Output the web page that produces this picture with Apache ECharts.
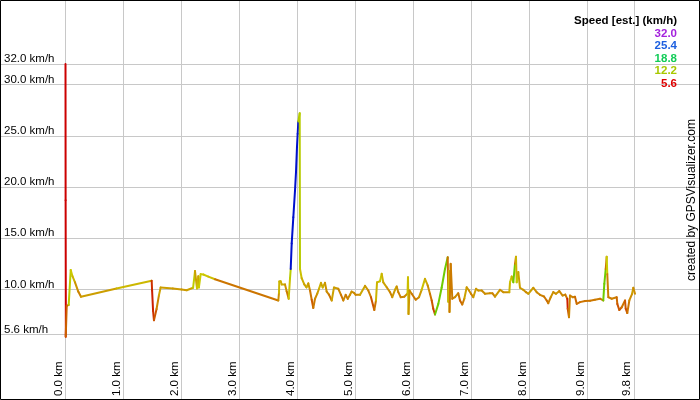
<!DOCTYPE html>
<html><head><meta charset="utf-8">
<script src="https://cdn.jsdelivr.net/npm/echarts@6/dist/echarts.min.js"></script>
<style>html,body{margin:0;padding:0;background:#fff}#c{width:700px;height:400px}</style>
</head><body><div id="c"></div>
<script>
const xTicks = [0, 1, 2, 3, 4, 5, 6, 7, 8, 9, 9.8];
const yTicks = [5.6, 10, 15, 20, 25, 30, 32];
const legendTitle = 'Speed [est.] (km/h)';
const legendValues = [32.0, 25.4, 18.8, 12.2, 5.6];
const legendColors = ['#a422dd', '#1d5fdf', '#12cc58', '#a8c800', '#dd0000'];
const lineHues = [280, 235, 140, 68, 0];
const credit = 'created by GPSVisualizer.com';
// [distance km, speed km/h, (optional) speed used for segment colour]
const track = [
[0.000,32.0,5.6],[0.002,18.7,5.6],[0.006,6.2,5.6],[0.004,5.4],[0.021,8.4],[0.055,8.5],
[0.090,11.9],[0.120,11.3],[0.164,10.7],[0.220,9.8],[0.267,9.3],[0.880,10.1],[1.486,10.85],
[1.493,9.9,7],[1.510,7.9,6.5],[1.525,7.0],[1.570,8.1],[1.610,9.4],[1.640,10.2],[1.850,10.1],
[2.000,10.0],[2.090,9.93],[2.200,10.17],[2.233,11.8],[2.267,10.1],[2.290,11.3],[2.300,10.2],
[2.331,11.5],[2.376,11.46],[2.462,11.26],[2.578,11.0],[3.669,8.93],[3.681,9.67],[3.686,10.78],
[3.710,10.8],[3.728,10.5],[3.784,10.5],[3.814,9.8],[3.848,9.1],[3.871,11.1],[3.883,12.0],
[3.900,14.5,25.4],[3.928,17.05,25.4],[3.957,19.66,25.4],[3.974,21.44,25.4],[3.991,23.9,25.4],
[4.003,25.2,25.4],[4.014,26.4,25.4],[4.038,27.2,12.2],[4.043,12.0],
[4.072,11.1],[4.117,10.5],[4.155,10.2],[4.186,10.6],[4.216,9.9],[4.245,9.0],[4.272,8.2],
[4.302,9.1],[4.341,9.6],[4.371,10.07],[4.405,10.65],[4.434,10.2],[4.474,10.65],[4.503,9.8],
[4.543,9.5],[4.590,8.93],[4.629,10.2],[4.703,10.07],[4.750,9.48],[4.790,8.93],[4.831,9.48],
[4.866,9.09],[4.905,9.48],[4.934,9.8],[4.974,9.68],[5.003,9.48],[5.078,9.48],[5.164,10.35],
[5.221,9.9],[5.267,9.25],[5.324,8.0],[5.353,8.93],[5.371,10.7],[5.422,10.8],[5.452,11.53],
[5.479,10.7],[5.538,10.22],[5.595,9.74],[5.634,9.25],[5.681,9.97],[5.710,10.3],[5.738,9.74],
[5.779,9.25],[5.841,9.3],[5.897,9.6],[5.905,11.2],[5.914,7.6,11],[5.931,9.9],[5.969,9.58],
[6.038,9.0],[6.095,9.25],[6.141,9.97],[6.198,11.04],[6.245,10.4],[6.284,9.58],[6.314,8.93],
[6.341,8.12],[6.371,7.56],[6.428,8.6,14],[6.486,10.2,14],[6.543,12.0,14],[6.590,13.15,14],
[6.600,8.8],[6.612,11.8],[6.621,7.8,11],[6.641,12.5,9],[6.669,9.1],[6.716,9.25],[6.772,9.64],
[6.802,8.93],[6.841,8.54],[6.876,9.1],[6.917,10.22],[6.957,9.9],[6.991,9.58],[7.031,9.25],
[7.078,10.07],[7.117,9.9],[7.176,9.9],[7.233,9.58],[7.319,9.64],[7.359,9.64],[7.405,9.3],
[7.491,9.97],[7.548,9.74],[7.652,9.74],[7.664,10.7],[7.693,11.27],[7.721,10.7],[7.750,12.5,14],
[7.767,13.2,9],[7.779,10.7],[7.807,11.7],[7.836,10.17],[7.893,9.97],[7.940,9.74],[7.979,9.58],
[8.066,10.17],[8.124,9.74],[8.181,9.48],[8.250,9.32],[8.297,8.93],[8.324,8.66],[8.366,9.25],
[8.410,9.74],[8.457,9.58],[8.514,9.84],[8.572,9.41],[8.617,9.5],[8.652,9.09],[8.659,8.12,6.5],
[8.681,7.3,8],[8.698,9.41],[8.745,9.25],[8.784,9.3],[8.814,8.6],[8.871,8.77],[8.957,8.87],
[9.043,8.9],[9.129,9.0],[9.216,9.1],[9.272,8.93],[9.290,10.55,14],[9.314,12.0,14],[9.331,13.2,9],
[9.341,11.5],[9.359,9.25],[9.417,9.1],[9.503,9.25],[9.514,8.6],[9.548,8.0],[9.590,8.27],
[9.647,8.93],[9.659,8.12],[9.686,7.7],[9.721,8.93],[9.769,9.58],[9.790,10.17],[9.819,9.58]
];

function hsvToRgb(h, s, v) {
  const c = v * s, hp = h / 60, x = c * (1 - Math.abs(hp % 2 - 1));
  let r = 0, g = 0, b = 0;
  if (hp < 1) { r = c; g = x; } else if (hp < 2) { r = x; g = c; }
  else if (hp < 3) { g = c; b = x; } else if (hp < 4) { g = x; b = c; }
  else if (hp < 5) { r = x; b = c; } else { r = c; b = x; }
  const m = v - c;
  return 'rgb(' + Math.round((r + m) * 255) + ',' + Math.round((g + m) * 255) + ',' + Math.round((b + m) * 255) + ')';
}
function speedColor(sp) {
  const vals = legendValues.slice().reverse(), hues = lineHues.slice().reverse();
  if (sp <= vals[0]) return hsvToRgb(hues[0], 1, 0.8);
  for (let i = 1; i < vals.length; i++) {
    if (sp <= vals[i]) {
      const t = (sp - vals[i - 1]) / (vals[i] - vals[i - 1]);
      return hsvToRgb(hues[i - 1] + t * (hues[i] - hues[i - 1]), 1, 0.8);
    }
  }
  return hsvToRgb(hues[hues.length - 1], 1, 0.8);
}

const FONT = '"Liberation Sans", Arial, Helvetica, sans-serif';
const chart = echarts.init(document.getElementById('c'), null, { renderer: 'canvas' });

const graphics = [
  { type: 'rect', shape: { x: 0.5, y: 0.5, width: 699, height: 399 }, style: { fill: 'none', stroke: '#000', lineWidth: 1 }, z: 100 },
  { type: 'text', x: 677, y: 21, style: { text: legendTitle, font: 'bold 11.5px ' + FONT, fill: '#000', textAlign: 'right', textVerticalAlign: 'middle' }, z: 100 },
  { type: 'text', x: 691.5, y: 200, rotation: Math.PI / 2, style: { text: credit, font: '12px ' + FONT, fill: '#000', textAlign: 'center', textVerticalAlign: 'middle' }, z: 100 }
];
const legendY = [33.5, 46, 58.5, 71, 83.5];
legendValues.forEach(function (v, i) {
  graphics.push({ type: 'text', x: 677, y: legendY[i], style: { text: v.toFixed(1), font: 'bold 11.5px ' + FONT, fill: legendColors[i], textAlign: 'right', textVerticalAlign: 'middle' }, z: 100 });
});

const gridLine = { color: '#c8c8c8', width: 1, type: 'solid' };

chart.setOption({
  animation: false,
  backgroundColor: '#fff',
  grid: { left: 0, right: 0, top: 0, bottom: 0 },
  xAxis: { type: 'value', min: -65.5 / 58, max: (700 - 65.5) / 58, show: false, splitLine: { show: false } },
  yAxis: { type: 'value', min: 10 - 110.5 / 10.25, max: 10 + 289.5 / 10.25, show: false, splitLine: { show: false } },
  graphic: graphics,
  series: [
    {
      type: 'line', data: [], silent: true, z: 1,
      markLine: {
        silent: true, symbol: ['none', 'none'], animation: false,
        lineStyle: gridLine,
        label: { show: true, position: 'insideStartTop', distance: [4, 1], color: '#000', fontFamily: FONT, fontSize: 11.5 },
        data: xTicks.map(function (v) { return { xAxis: v, label: { formatter: v.toFixed(1) + ' km' } }; })
      }
    },
    {
      type: 'line', data: [], silent: true, z: 1,
      markLine: {
        silent: true, symbol: ['none', 'none'], animation: false,
        lineStyle: gridLine,
        label: { show: true, position: 'insideStartTop', distance: [4, -1], color: '#000', fontFamily: FONT, fontSize: 11.5 },
        data: yTicks.map(function (v) { return { yAxis: v, label: { formatter: v.toFixed(1) + ' km/h' } }; })
      }
    },
    {
      type: 'custom', z: 5, clip: false, silent: true,
      encode: { x: 0, y: 1 },
      data: track.map(function (p) { return [p[0], p[1]]; }),
      renderItem: function (params, api) {
        const i = params.dataIndex;
        if (i === 0) return { type: 'group', children: [] };
        const p0 = api.coord([track[i - 1][0], track[i - 1][1]]);
        const p1 = api.coord([api.value(0), api.value(1)]);
        const cs = track[i].length > 2 ? track[i][2] : track[i][1];
        return {
          type: 'line',
          shape: { x1: p0[0], y1: p0[1], x2: p1[0], y2: p1[1] },
          style: { stroke: speedColor(cs), lineWidth: 2, lineCap: 'round' }
        };
      }
    }
  ]
});
</script>
</body></html>
